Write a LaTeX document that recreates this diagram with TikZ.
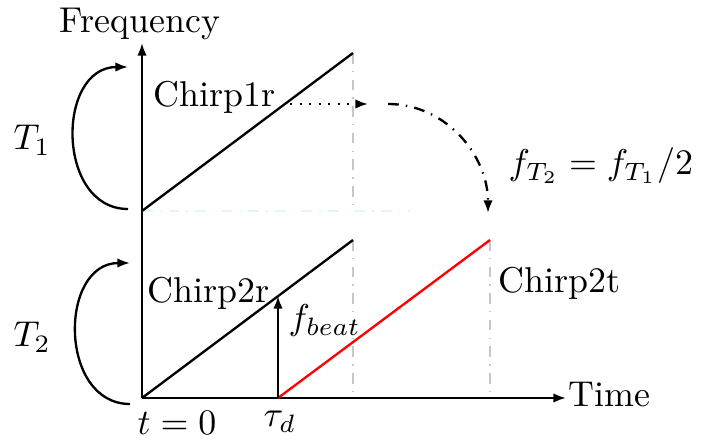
\documentclass[tikz,border=0pt]{standalone}
\usepackage{amsmath}
\usetikzlibrary{arrows.meta}

\begin{document}
\begin{tikzpicture}[
    x=0.0098cm,
    y=-0.0098cm,
    axis/.style={
        -{Latex[length=3.5pt]},
        line width=0.65pt
    },
    chirp/.style={
        line width=0.65pt
    },
    guide/.style={
        dash dot,
        gray!45,
        line width=0.8pt
    },
    period/.style={
        -{Latex[length=3.5pt]},
        line width=0.65pt,
        out=180,
        in=180,
        looseness=1.3
    },
    lbl/.style={
        inner sep=0pt
    }
]
\useasboundingbox (0,0) rectangle (709,442);

% ---------------- AXES ----------------
\coordinate (origin) at (142,398);
\coordinate (ftop) at (142,43);
\coordinate (tend) at (566,398);
\draw[axis] (origin) -- (ftop);
\draw[axis] (origin) -- (tend);
\node[lbl, anchor=base] (freq) at (140,33) {Frequency};
\node[lbl, anchor=base west] (time) at (568,407) {Time};
\node[lbl, anchor=base west] (tzero) at (137,434) {$t=0$};
\node[lbl, anchor=base west] (taud) at (263,427) {$\tau_d$};

% ---------------- CHIRP 1 ----------------
\coordinate (c1start) at (142,211);
\coordinate (c1end) at (353,53);
\coordinate (c1foot) at (353,211);
\coordinate (c1ref) at (410,211);
\draw[dash dot, cyan!12, line width=0.8pt] (c1start) -- (c1ref);
\draw[guide] (c1end) -- (c1foot);
\draw[chirp] (c1start) -- (c1end);
\node[lbl, anchor=base west] (chirp1r) at (153,107) {Chirp1r};

% ---------------- CHIRP 2 ----------------
\coordinate (c2end) at (353,240);
\coordinate (c2foot) at (353,398);
\draw[guide] (c2end) -- (c2foot);
\draw[chirp] (origin) -- (c2end);
\node[lbl, anchor=base west] (chirp2r) at (147,303) {Chirp2r};

% ---------------- DELAYED CHIRP ----------------
\coordinate (tau) at (278,398);
\coordinate (t2end) at (490,240);
\coordinate (t2foot) at (490,398);
\coordinate (beattop) at (278,296);
\draw[guide] (t2end) -- (t2foot);
\draw[chirp, red] (tau) -- (t2end);
\draw[axis] (tau) -- (beattop);
\node[lbl, anchor=base west] (fbeat) at (288,330) {$f_{beat}$};
\node[lbl, anchor=base west] (chirp2t) at (498,293) {Chirp2t};

% ---------------- PERIODS ----------------
\coordinate (p1low) at (128,209);
\coordinate (p1high) at (128,67);
\coordinate (p2low) at (130,404);
\coordinate (p2high) at (130,263);
\draw[period] (p1low) to (p1high);
\draw[period] (p2low) to (p2high);
\node[lbl, anchor=base west] (tone) at (13,150) {$T_1$};
\node[lbl, anchor=base west] (ttwo) at (13,347) {$T_2$};

% ---------------- FREQUENCY SHIFT ----------------
\coordinate (dotstart) at (290,104);
\coordinate (dotend) at (368,104);
\coordinate (shiftstart) at (388,104);
\coordinate (shiftend) at (488,213);
\draw[-{Latex[length=3.5pt]}, dotted, line width=0.65pt] (dotstart) -- (dotend);
\draw[-{Latex[length=3.5pt]}, dash dot, line width=0.65pt] (shiftstart) to[out=0, in=90] (shiftend);
\node[lbl, anchor=base west] (fshift) at (508,175) {$f_{T_2}=f_{T_1}/2$};

\end{tikzpicture}
\end{document}
